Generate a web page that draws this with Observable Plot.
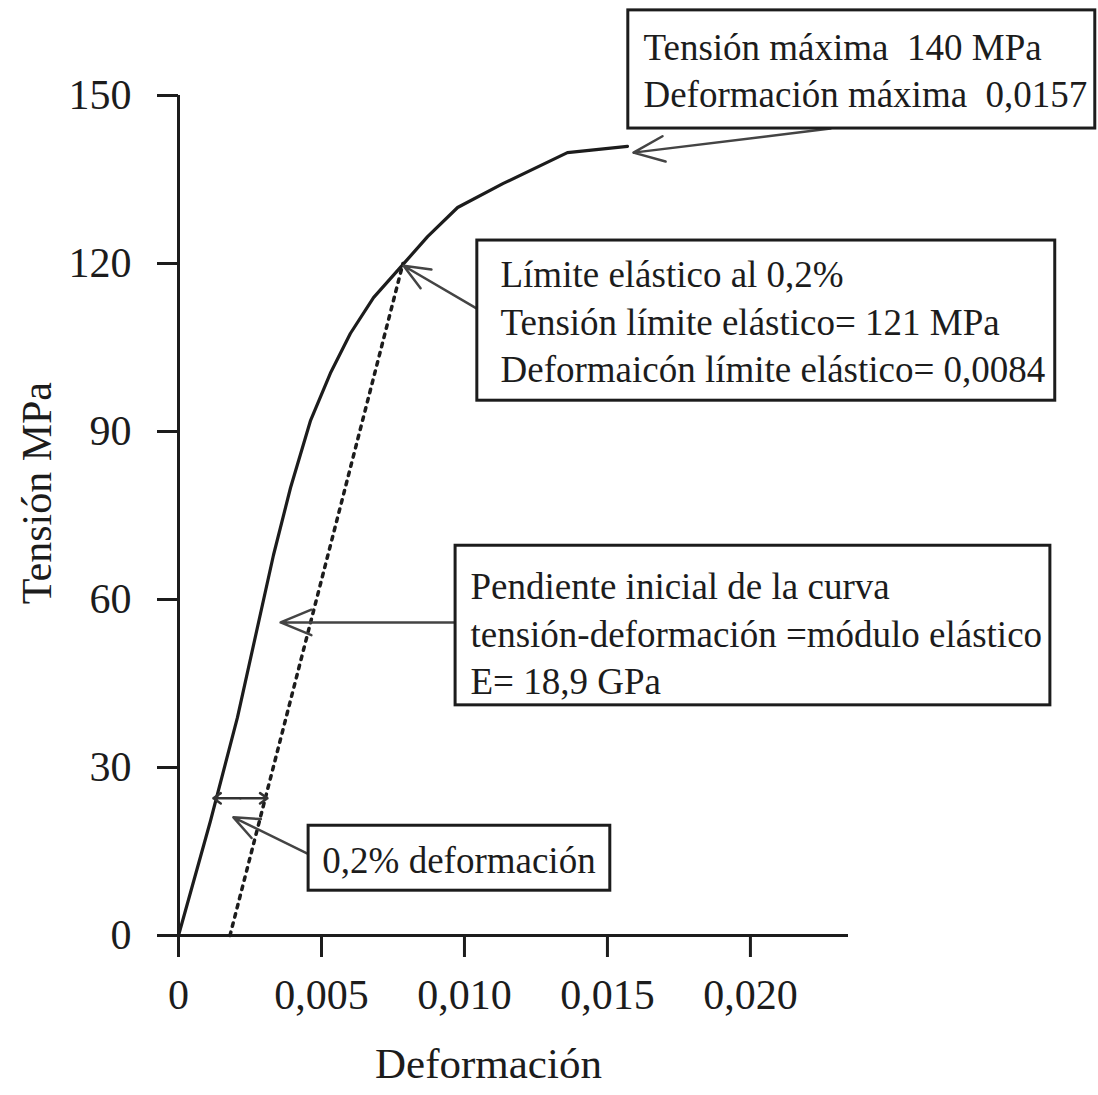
<!DOCTYPE html>
<html>
<head>
<meta charset="utf-8">
<script src="https://cdn.jsdelivr.net/npm/d3@7"></script>
<script src="https://cdn.jsdelivr.net/npm/@observablehq/plot@0.6"></script>
<style>
  html, body { margin: 0; padding: 0; background: #fff; }
</style>
</head>
<body>
<div id="chart"></div>
<script>
// Axis ticks
const xTicks = [0, 0.005, 0.010, 0.015, 0.020];
const xTickLabels = ["0", "0,005", "0,010", "0,015", "0,020"];
const yTicks = [0, 30, 60, 90, 120, 150];
const xMax = 0.02343;

// Stress–strain curve
const strain = [0, 0.00112, 0.00206, 0.00332, 0.00392, 0.00462, 0.00531, 0.00601, 0.00682, 0.00776, 0.00871, 0.00976, 0.01136, 0.01360, 0.01570];
const stress = [0, 20.5, 38.9, 67.9, 80.0, 92.0, 100.4, 107.5, 113.9, 119.3, 124.8, 130.0, 134.3, 139.8, 140.9];

// 0.2 % offset line
const offsetStrain = [0.0018, 0.00785];
const offsetStress = [0, 120];

// 0.2 % double arrow
const gapY = 24.5;
const gapX1 = 0.00122, gapX2 = 0.00311;

// Annotation boxes
const boxText = [
  "Tensión máxima  140 MPa\nDeformación máxima  0,0157",
  "Límite elástico al 0,2%\nTensión límite elástico= 121 MPa\nDeformaicón límite elástico= 0,0084",
  "Pendiente inicial de la curva\ntensión-deformación =módulo elástico\nE= 18,9 GPa",
  "0,2% deformación"
];
const boxX1 = [0.01573, 0.01045, 0.00969, 0.00455];
const boxX2 = [0.03206, 0.03066, 0.03049, 0.01510];
const boxY1 = [144.1, 95.5, 41.1, 8.0];
const boxY2 = [165.2, 124.1, 69.6, 19.6];
const textX = [0.01626, 0.01126, 0.01021, 0.00503];
const textY = [154.9, 110.0, 54.3, 13.9];

// Leader arrows (from box to curve)
const arrX1 = [0.0228, 0.01042, 0.00969, 0.00451];
const arrY1 = [144.1, 112.0, 55.9, 14.6];
const arrX2 = [0.01591, 0.00787, 0.00357, 0.00192];
const arrY2 = [139.8, 119.6, 55.9, 21.1];

// Axis titles
const xTitle = "Deformación";
const yTitle = "Tensión MPa";

const curve = strain.map((s, i) => ({x: s, y: stress[i]}));
const offset = offsetStrain.map((s, i) => ({x: s, y: offsetStress[i]}));
const boxes = boxText.map((t, i) => ({t, x1: boxX1[i], x2: boxX2[i], y1: boxY1[i], y2: boxY2[i], tx: textX[i], ty: textY[i]}));
const arrows = arrX1.map((x, i) => ({x1: x, y1: arrY1[i], x2: arrX2[i], y2: arrY2[i]}));
const gapMid = (gapX1 + gapX2) / 2;
const gapArrows = [
  {x1: gapMid, x2: gapX1, y: gapY},
  {x1: gapMid, x2: gapX2, y: gapY}
];

const ink = "#1c1c1c";
const font = "'Liberation Serif', 'DejaVu Serif', serif";

const plot = Plot.plot({
  width: 1098,
  height: 1095,
  marginTop: 95,
  marginBottom: 160,
  marginLeft: 178,
  marginRight: 250,
  x: {domain: [0, xMax]},
  y: {domain: [0, 150]},
  style: {fontFamily: font, fontSize: "42px", color: ink, background: "#fff", overflow: "visible"},
  marks: [
    Plot.axisX({ticks: xTicks, tickFormat: d => xTickLabels[xTicks.indexOf(d)], tickSize: 22, tickPadding: 22, strokeWidth: 3, label: null, fontSize: 42}),
    Plot.axisY({ticks: yTicks, tickSize: 21, tickPadding: 26, strokeWidth: 3, label: null, fontSize: 42}),
    Plot.ruleY([0], {x1: 0, x2: xMax, stroke: ink, strokeWidth: 3}),
    Plot.ruleX([0], {y1: 0, y2: 150, stroke: ink, strokeWidth: 3}),
    Plot.line(offset, {x: "x", y: "y", stroke: ink, strokeWidth: 3.5, strokeDasharray: "3.5 6"}),
    Plot.line(curve, {x: "x", y: "y", stroke: ink, strokeWidth: 3.2}),
    Plot.arrow(gapArrows, {x1: "x1", y1: "y", x2: "x2", y2: "y", stroke: "#333", strokeWidth: 2.5, headLength: 14, headAngle: 70}),
    Plot.arrow(arrows, {x1: "x1", y1: "y1", x2: "x2", y2: "y2", stroke: "#444", strokeWidth: 2.5, headLength: 20, headAngle: 45}),
    Plot.rect(boxes, {x1: "x1", x2: "x2", y1: "y1", y2: "y2", fill: "#fff", stroke: ink, strokeWidth: 3}),
    Plot.text(boxes, {x: "tx", y: "ty", text: "t", textAnchor: "start", lineAnchor: "middle", lineHeight: 1.28, fontSize: 37, fill: ink}),
    Plot.text([xTitle], {x: 0.01084, y: -23, text: d => d, fontSize: 43, fill: ink, lineAnchor: "middle"}),
    Plot.text([yTitle], {x: -0.00493, y: 79, text: d => d, fontSize: 42, fill: ink, rotate: -90, lineAnchor: "middle"})
  ]
});

document.getElementById("chart").appendChild(plot);
</script>
</body>
</html>
